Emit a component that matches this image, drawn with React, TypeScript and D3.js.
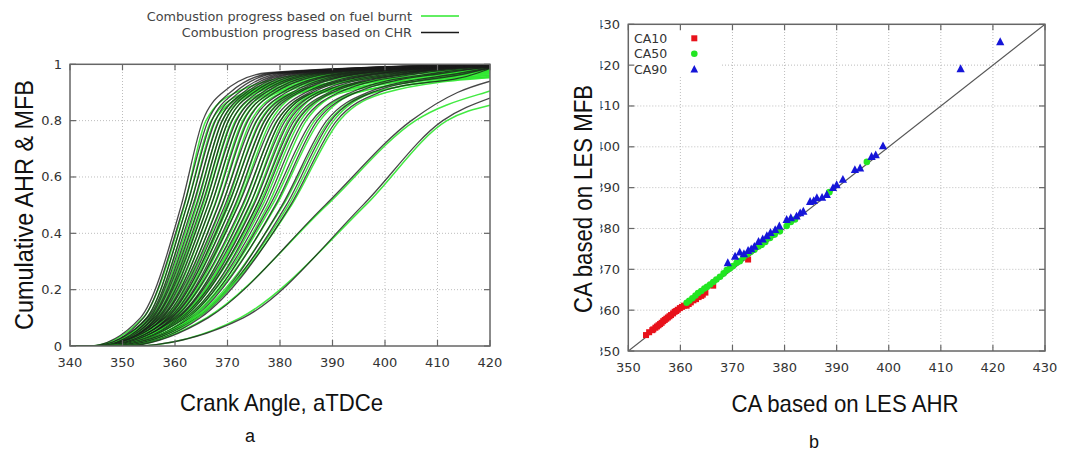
import React from 'react';
import * as d3 from 'd3';

// ---- Panel a: per-cycle burn anchors (crank angle at given fraction) ----
const ahrCA0 = [343.5,344.8,345.6,344.2,346.0,345.0,346.8,345.4,347.0,345.9,346.5,345.2,347.2,346.0,344.9,347.5,346.3,345.5,347.8,346.6,345.8,348.0,346.9,347.3,346.2,348.4,347.0,349.0,346.5,348.2,349.5,350.0,351.5];
const ahrCA10 = [353.4,354.0,354.6,354.8,355.2,355.5,355.8,356.1,356.4,356.7,357.0,357.3,357.6,357.9,358.2,358.6,358.9,359.2,359.5,359.9,360.3,360.7,361.2,361.6,362.0,362.5,363.0,363.5,364.0,364.3,364.8,366.3,373.0];
const ahrCA50 = [361.2,361.7,362.3,362.9,363.4,364.0,364.6,365.1,365.7,366.3,366.9,367.6,368.3,368.9,369.5,370.1,370.8,371.4,372.1,372.8,373.5,374.2,375.0,375.6,376.3,377.2,378.1,379.1,380.4,381.2,382.0,388.6,395.8];
const ahrCA80 = [365.3,366.3,367.0,367.7,368.4,369.0,369.6,370.2,370.9,371.7,372.3,373.1,373.9,374.9,375.6,376.4,377.1,377.7,378.8,379.5,380.1,381.0,381.8,382.7,383.4,384.5,386.1,387.1,388.9,389.7,390.8,405.0,411.0];
const ahrCA90 = [369.1,370.5,371.4,372.2,373.0,373.6,374.2,375.0,375.8,376.6,377.3,378.2,379.0,380.4,381.2,382.3,383.0,383.6,384.9,385.6,386.2,387.2,388.1,389.3,390.0,391.2,393.5,394.5,396.7,397.5,398.9,413.8,421.4];
const ahrCA97 = [377.7,379.0,379.9,381.1,382.0,383.0,383.9,384.9,386.0,387.2,388.2,389.5,390.8,392.5,393.6,394.9,396.1,397.0,398.8,399.8,400.7,402.1,403.3,404.7,405.7,407.4,410.1,411.7,414.7,416.1,417.8,438.0,447.0];
const ahrEnd = [1,1,1,1,1,1,0.999,0.999,0.999,0.998,0.998,0.998,0.997,0.997,0.997,0.996,0.996,0.996,0.995,0.995,0.995,0.994,0.994,0.993,0.993,0.992,0.99,0.99,0.988,0.987,0.986,0.94,0.88];

const mfbCA0 = [343.8,345.1,345.9,344.5,346.3,345.3,347.1,345.7,347.3,346.2,346.8,345.5,347.5,346.3,345.2,347.8,346.6,345.8,348.1,346.9,346.1,348.3,347.2,347.6,346.5,348.7,347.3,349.3,346.8,348.5,349.8,350.3,351.8];
const mfbCA10 = [353.9,354.6,355.1,355.3,355.7,356.0,356.3,356.6,356.9,357.3,357.6,357.9,358.2,358.5,358.8,359.2,359.6,359.8,360.1,360.5,360.8,361.1,361.1,361.5,361.9,362.4,362.7,363.2,363.5,363.8,364.3,366.0,372.4];
const mfbCA50 = [361.8,362.3,362.9,363.6,364.2,364.7,365.3,365.7,366.3,366.9,367.5,368.2,369.0,369.8,370.2,370.8,371.6,372.0,373.0,373.6,374.3,374.8,375.6,376.0,376.7,377.7,378.5,379.3,380.6,381.6,382.2,388.9,396.3];
const mfbCA80 = [365.9,366.9,367.6,368.3,369.0,369.6,370.2,370.8,371.5,372.3,372.9,373.7,374.5,375.5,376.2,377.0,377.7,378.3,379.4,380.1,380.6,381.5,382.3,383.2,383.9,385.0,386.6,387.6,389.4,390.2,391.3,405.8,411.8];
const mfbCA90 = [371.6,373.2,374.2,373.8,374.6,375.0,375.6,376.8,377.4,378.2,379.0,379.7,380.6,382.2,382.6,383.0,383.8,384.2,386.6,386.8,387.5,387.6,388.3,390.0,390.7,392.0,394.4,394.8,397.6,398.0,400.2,419.1,425.7];
const mfbCA97 = [387.4,388.6,389.8,390.4,391.6,392.4,393.6,395.0,396.2,397.4,398.8,400.3,402.2,404.8,405.4,406.2,407.8,408.6,412.4,413.0,414.5,415.0,417.3,419.0,425,428,433,435,440,444,446,460,470];
const mfbEnd = [0.99,0.99,0.989,0.989,0.988,0.988,0.987,0.987,0.986,0.986,0.985,0.985,0.984,0.983,0.983,0.982,0.981,0.98,0.979,0.978,0.977,0.976,0.974,0.972,0.968,0.966,0.962,0.96,0.957,0.955,0.952,0.905,0.855];

const levels = [0, 0.1, 0.5, 0.8, 0.9, 0.97];

const xTicksA = [340,350,360,370,380,390,400,410,420];
const yTicksA = [0,0.2,0.4,0.6,0.8,1];
const yTickLabelsA = ['0','0.2','0.4','0.6','0.8','1'];
const ticksB = [350,360,370,380,390,400,410,420,430];

const legendA = ['Combustion progress based on fuel burnt','Combustion progress based on CHR'];
const legendB = ['CA10','CA50','CA90'];

const FT = '"DejaVu Sans", sans-serif';
const FA = '"Liberation Sans", Arial, sans-serif';

export default function App() {
  const xA = d3.scaleLinear().domain([340,420]).range([70,490]);
  const yA = d3.scaleLinear().domain([0,1]).range([346,64.3]);
  const xB = d3.scaleLinear().domain([350,430]).range([628.3,1045]);
  const yB = d3.scaleLinear().domain([350,430]).range([351,24.3]);

  const line = d3.line<[number,number]>().x(d=>xA(d[0])).y(d=>yA(d[1])).curve(d3.curveMonotoneX);

  const mk = (anchors:number[], end:number) => {
    const p:[number,number][] = [[340,0]];
    anchors.forEach((a,k)=>{ if (a>340 && a<419.5) p.push([a,levels[k]]); });
    p.push([420,end]);
    return line(p) as string;
  };

  const green = '#2ee82e';
  const black = '#1a1a1a';
  const grid = '#bdbdbd';
  const axis = '#666';

  const curves: JSX.Element[] = [];
  ahrCA10.forEach((_,i)=>{
    curves.push(<path key={'g'+i} d={mk([mfbCA0[i],mfbCA10[i],mfbCA50[i],mfbCA80[i],mfbCA90[i],mfbCA97[i]],mfbEnd[i])} fill="none" stroke={green} strokeWidth={1.5} strokeOpacity={0.9}/>);
    curves.push(<path key={'k'+i} d={mk([ahrCA0[i],ahrCA10[i],ahrCA50[i],ahrCA80[i],ahrCA90[i],ahrCA97[i]],ahrEnd[i])} fill="none" stroke={black} strokeWidth={1.3} strokeOpacity={0.8}/>);
  });

  const tri = (cx:number, cy:number, s:number) => `M${cx},${cy-s*0.6}L${cx+s*0.55},${cy+s*0.45}L${cx-s*0.55},${cy+s*0.45}Z`;

  return (
    <svg width={1079} height={451} style={{position:'absolute',left:0,top:0,background:'#fff'}}>
      <defs>
        <clipPath id="clipA"><rect x={70} y={64.3} width={420} height={281.7}/></clipPath>
        <clipPath id="clipB"><rect x={628.3} y={24.3} width={416.7} height={326.7}/></clipPath>
        <clipPath id="clipBy"><rect x={600.5} y={0} width={40} height={451}/></clipPath>
      </defs>
      <rect x={0} y={0} width={1079} height={451} fill="#fff"/>

      {/* ===== Panel a ===== */}
      {xTicksA.slice(1,-1).map(t=>(
        <line key={'gxa'+t} x1={xA(t)} x2={xA(t)} y1={yA(0)} y2={yA(1)} stroke={grid} strokeWidth={1} strokeDasharray="1,2"/>
      ))}
      {yTicksA.slice(1,-1).map(t=>(
        <line key={'gya'+t} x1={xA(340)} x2={xA(420)} y1={yA(t)} y2={yA(t)} stroke={grid} strokeWidth={1} strokeDasharray="1,2"/>
      ))}
      <g clipPath="url(#clipA)">{curves}</g>
      <rect x={xA(340)} y={yA(1)} width={xA(420)-xA(340)} height={yA(0)-yA(1)} fill="none" stroke={axis} strokeWidth={1.5}/>
      {xTicksA.map(t=>(
        <g key={'txa'+t}>
          <line x1={xA(t)} x2={xA(t)} y1={yA(0)} y2={yA(0)-6} stroke={axis} strokeWidth={1.2}/>
          <line x1={xA(t)} x2={xA(t)} y1={yA(1)} y2={yA(1)+6} stroke={axis} strokeWidth={1.2}/>
          <text x={xA(t)} y={367} textAnchor="middle" fontFamily={FT} fontSize={13} fill="#333">{t}</text>
        </g>
      ))}
      {yTicksA.map((t,i)=>(
        <g key={'tya'+t}>
          <line x1={xA(340)} x2={xA(340)+6} y1={yA(t)} y2={yA(t)} stroke={axis} strokeWidth={1.2}/>
          <line x1={xA(420)} x2={xA(420)-6} y1={yA(t)} y2={yA(t)} stroke={axis} strokeWidth={1.2}/>
          <text x={62} y={yA(t)+4.5} textAnchor="end" fontFamily={FT} fontSize={13} fill="#333">{yTickLabelsA[i]}</text>
        </g>
      ))}
      <text transform={`translate(32.5,205) rotate(-90)`} textAnchor="middle" fontFamily={FA} fontSize={26} textLength={250} lengthAdjust="spacingAndGlyphs" fill="#111">Cumulative AHR &amp; MFB</text>
      <text x={281.5} y={410.5} textAnchor="middle" fontFamily={FA} fontSize={24} textLength={203} lengthAdjust="spacingAndGlyphs" fill="#111">Crank Angle,  aTDCe</text>
      <text x={250} y={442} textAnchor="middle" fontFamily={FA} fontSize={18} fill="#111">a</text>
      {legendA.map((s,i)=>(
        <g key={'la'+i}>
          <text x={412} y={20.5+i*16.5} textAnchor="end" fontFamily={FT} fontSize={12.8} fill="#444">{s}</text>
          <line x1={421} x2={459} y1={16+i*16.5} y2={16+i*16.5} stroke={i===0?green:black} strokeWidth={1.3}/>
        </g>
      ))}

      {/* ===== Panel b ===== */}
      {ticksB.slice(1,-1).map(t=>(
        <g key={'gb'+t}>
          <line x1={xB(t)} x2={xB(t)} y1={yB(350)} y2={xB(t) < 722 ? 75 : yB(430)} stroke={grid} strokeWidth={1} strokeDasharray="1,2"/>
          <line x1={yB(t) < 76 ? 722 : xB(350)} x2={xB(430)} y1={yB(t)} y2={yB(t)} stroke={grid} strokeWidth={1} strokeDasharray="1,2"/>
        </g>
      ))}
      <g clipPath="url(#clipB)">
        <line x1={xB(350)} y1={yB(350)} x2={xB(430)} y2={yB(430)} stroke="#555" strokeWidth={1.2}/>
        {ahrCA10.map((v,i)=>(
          <rect key={'r'+i} x={xB(v)-3} y={yB(mfbCA10[i])-3} width={6} height={6} fill="#e8121b"/>
        ))}
        {ahrCA50.map((v,i)=>(
          <circle key={'c'+i} cx={xB(v)} cy={yB(mfbCA50[i])} r={3.3} fill="#22e622"/>
        ))}
        {ahrCA90.map((v,i)=>(
          <path key={'t'+i} d={tri(xB(v), yB(mfbCA90[i]), 7.5)} fill="#1515d8"/>
        ))}
      </g>
      <rect x={xB(350)} y={yB(430)} width={xB(430)-xB(350)} height={yB(350)-yB(430)} fill="none" stroke={axis} strokeWidth={1.5}/>
      {ticksB.map(t=>(
        <g key={'tb'+t}>
          <line x1={xB(t)} x2={xB(t)} y1={yB(350)} y2={yB(350)-6} stroke={axis} strokeWidth={1.2}/>
          <line x1={xB(t)} x2={xB(t)} y1={yB(430)} y2={yB(430)+6} stroke={axis} strokeWidth={1.2}/>
          <line x1={xB(350)} x2={xB(350)+6} y1={yB(t)} y2={yB(t)} stroke={axis} strokeWidth={1.2}/>
          <line x1={xB(430)} x2={xB(430)-6} y1={yB(t)} y2={yB(t)} stroke={axis} strokeWidth={1.2}/>
          <text x={xB(t)} y={372} textAnchor="middle" fontFamily={FT} fontSize={13} fill="#333">{t}</text>
          <text x={620} y={yB(t)+4.5} textAnchor="end" fontFamily={FT} fontSize={13} fill="#333" clipPath="url(#clipBy)">{t}</text>
        </g>
      ))}
      {legendB.map((s,i)=>{
        const cy = 38.3 + i*15.5;
        return (
          <g key={'lb'+i}>
            <text x={634} y={cy+4.5} fontFamily={FT} fontSize={12.5} fill="#333">{s}</text>
            {i===0 && <rect x={694.3-3} y={cy-3} width={6} height={6} fill="#e8121b"/>}
            {i===1 && <circle cx={694.3} cy={cy} r={3.3} fill="#22e622"/>}
            {i===2 && <path d={tri(694.3, cy, 7)} fill="#1515d8"/>}
          </g>
        );
      })}
      <text transform={`translate(592,199) rotate(-90)`} textAnchor="middle" fontFamily={FA} fontSize={25} textLength={228} lengthAdjust="spacingAndGlyphs" fill="#111">CA based on LES MFB</text>
      <text x={845} y={412} textAnchor="middle" fontFamily={FA} fontSize={24} textLength={227} lengthAdjust="spacingAndGlyphs" fill="#111">CA based on LES AHR</text>
      <text x={814} y={448} textAnchor="middle" fontFamily={FA} fontSize={18} fill="#111">b</text>
    </svg>
  );
}
